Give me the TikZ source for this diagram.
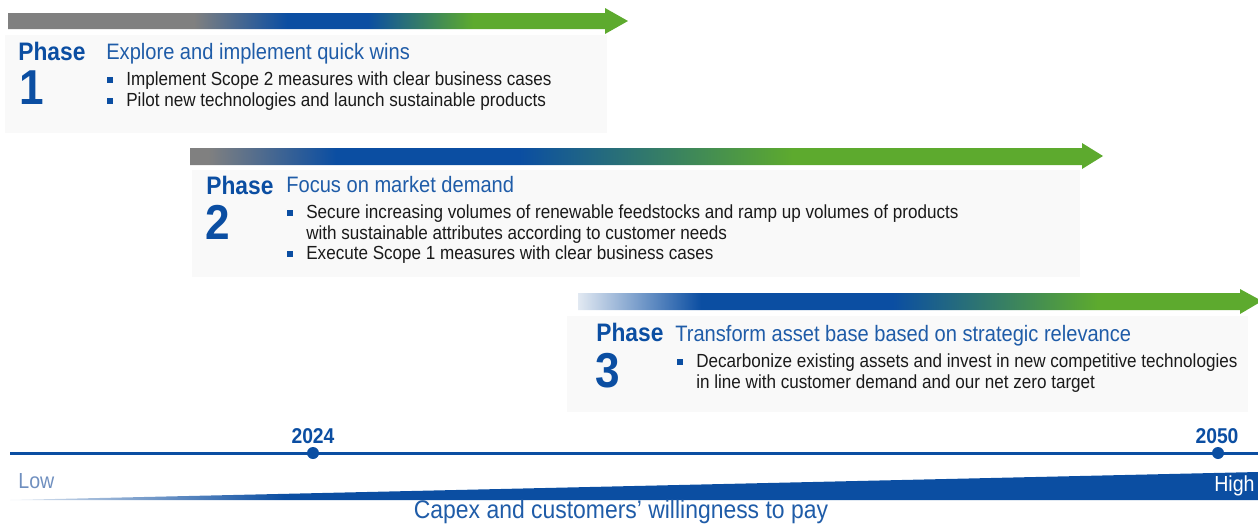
\documentclass[tikz,border=0pt]{standalone}
\usepackage{fontspec}
\setmainfont{Liberation Sans}[FakeStretch=0.9]
\usetikzlibrary{positioning}

\definecolor{phaseblue}{HTML}{0B4EA2}
\definecolor{titleblue}{HTML}{1F5CA8}
\definecolor{bodytext}{HTML}{1A1A1A}
\definecolor{bargray}{HTML}{808080}
\definecolor{bargreen}{HTML}{5DAA2E}
\definecolor{barpale}{HTML}{E2E9F2}
\definecolor{boxfill}{HTML}{F9F9F9}
\definecolor{lowtext}{HTML}{6F8FBF}

% gradient bars (path box = 25bp..75bp)
\pgfdeclarehorizontalshading{phaseonebar}{100bp}{color(0bp)=(bargray); color(40bp)=(bargray);
  color(47.5bp)=(phaseblue); color(54bp)=(phaseblue); color(62.5bp)=(bargreen); color(100bp)=(bargreen)}
\pgfdeclarehorizontalshading{phasetwobar}{100bp}{color(0bp)=(bargray); color(26bp)=(bargray);
  color(33bp)=(phaseblue); color(43bp)=(phaseblue); color(58bp)=(bargreen); color(100bp)=(bargreen)}
\pgfdeclarehorizontalshading{phasethreebar}{100bp}{color(0bp)=(barpale); color(25bp)=(barpale);
  color(34bp)=(phaseblue); color(48bp)=(phaseblue); color(63bp)=(bargreen); color(100bp)=(bargreen)}
\pgfdeclarehorizontalshading{wedgefade}{100bp}{color(0bp)=(barpale); color(25bp)=(barpale);
  color(36bp)=(phaseblue); color(100bp)=(phaseblue)}

\begin{document}
\begin{tikzpicture}[
    x=0.02cm, y=-0.02cm,
    % node styles
    phaseword/.style={anchor=base west, inner sep=0,
        font=\fontsize{14.4}{16}\selectfont\bfseries, text=phaseblue},
    phasenum/.style={anchor=base west, inner sep=0,
        font=\fontsize{27.9}{30}\selectfont\bfseries, text=phaseblue},
    phasetitle/.style={anchor=base west, inner sep=0,
        font=\fontsize{12.7}{14}\selectfont, text=titleblue},
    itemtext/.style={anchor=base west, inner sep=0,
        font=\fontsize{10.8}{13}\selectfont, text=bodytext},
    bulletsq/.style={rectangle, fill=phaseblue, inner sep=0,
        minimum size=0.11cm},
    phasebox/.style={fill=boxfill},
    yeardot/.style={circle, fill=phaseblue, inner sep=0, minimum size=0.24cm},
    yearlabel/.style={anchor=base, inner sep=0,
        font=\fontsize{12.2}{14}\selectfont\bfseries, text=phaseblue},
    scalelabel/.style={inner sep=0, font=\fontsize{12.4}{14}\selectfont},
    timeline/.style={phaseblue, line width=0.06cm}
]
\useasboundingbox (0,0) rectangle (1258,525);

% Phase 1
\fill[phasebox] (5,35) rectangle (607,133);
\shade[shading=phaseonebar] (8,13) -- (605,13) -- (605,8) -- (628,21)
    -- (605,34) -- (605,29) -- (8,29) -- cycle;
\node[phaseword] (ph1) at (18,60) {Phase};
\node[phasenum] (n1) at (19,104) {1};
\node[phasetitle] (t1) at (106,59) {Explore and implement quick wins};
\node[bulletsq] (b1a) at (110,80) {};
\node[itemtext] (i1a) at (126,85) {Implement Scope 2 measures with clear business cases};
\node[bulletsq] (b1b) at (110,101) {};
\node[itemtext] (i1b) at (126,106) {Pilot new technologies and launch sustainable products};

% Phase 2
\fill[phasebox] (192,170) rectangle (1080,277);
\shade[shading=phasetwobar] (190,148) -- (1082,148) -- (1082,143) -- (1103,156)
    -- (1082,169) -- (1082,165) -- (190,165) -- cycle;
\node[phaseword] (ph2) at (206,194) {Phase};
\node[phasenum] (n2) at (205,239) {2};
\node[phasetitle] (t2) at (286,192) {Focus on market demand};
\node[bulletsq] (b2a) at (290,213) {};
\node[itemtext] (i2a) at (306,218) {Secure increasing volumes of renewable feedstocks and ramp up volumes of products};
\node[itemtext] (i2b) at (306,239) {with sustainable attributes according to customer needs};
\node[bulletsq] (b2c) at (290,254) {};
\node[itemtext] (i2c) at (306,259) {Execute Scope 1 measures with clear business cases};

% Phase 3
\fill[phasebox] (567,316) rectangle (1248,412);
\shade[shading=phasethreebar] (578,293) -- (1240,293) -- (1240,289) -- (1262,301)
    -- (1240,314) -- (1240,310) -- (578,310) -- cycle;
\node[phaseword] (ph3) at (596,341) {Phase};
\node[phasenum] (n3) at (595,387) {3};
\node[phasetitle] (t3) at (675,341) {Transform asset base based on strategic relevance};
\node[bulletsq] (b3a) at (680,362) {};
\node[itemtext] (i3a) at (696,367) {Decarbonize existing assets and invest in new competitive technologies};
\node[itemtext] (i3b) at (696,388) {in line with customer demand and our net zero target};

% Zeitachse
\coordinate (tlstart) at (10,453);
\coordinate (tlend) at (1258,453);
\draw[timeline] (tlstart) -- (tlend);
\node[yeardot] (d2024) at (313,453) {};
\node[yeardot] (d2050) at (1218,453) {};
\node[yearlabel] (y2024) at (313,443) {2024};
\node[yearlabel] (y2050) at (1217,443) {2050};

% Capex-Keil
\shade[shading=wedgefade] (10,500) -- (1258,472) -- (1258,500) -- cycle;
\node[scalelabel, anchor=base west, text=lowtext] (low) at (18,488) {Low};
\node[scalelabel, anchor=base east, text=white] (high) at (1255,491) {High};
\node[anchor=base, inner sep=0, font=\fontsize{14.5}{16}\selectfont, text=titleblue]
    (capex) at (621,518) {Capex and customers’ willingness to pay};

\end{tikzpicture}
\end{document}
